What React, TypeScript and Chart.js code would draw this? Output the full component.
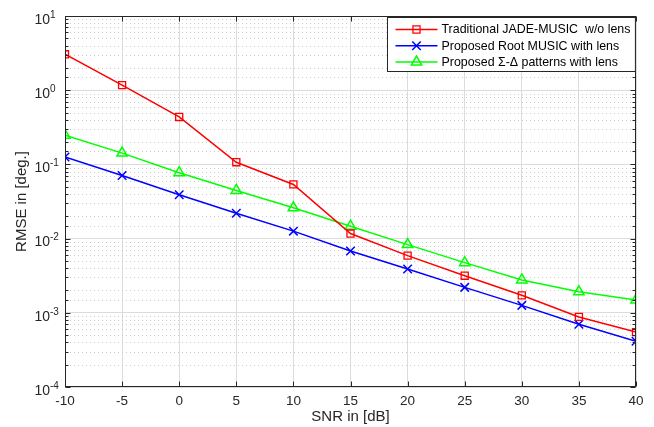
import { useEffect, useRef } from 'react';
import { Chart, registerables } from 'chart.js';
import { drawPoint } from 'chart.js/helpers';

Chart.register(...registerables);

const snrDb = [-10, -5, 0, 5, 10, 15, 20, 25, 30, 35, 40];
const jadeMusic = [3.05, 1.17, 0.436, 0.107, 0.0537, 0.0117, 0.0059, 0.00316, 0.00172, 0.00088, 0.00055];
const rootMusic = [0.126, 0.071, 0.039, 0.022, 0.0126, 0.0068, 0.0039, 0.0022, 0.00126, 0.0007, 0.000413];
const sigmaDelta = [0.247, 0.142, 0.0773, 0.0446, 0.026, 0.0147, 0.0083, 0.00474, 0.00277, 0.00192, 0.00149];
const yExponents = [-4, -3, -2, -1, 0, 1];
const seriesLabels = [
  'Traditional JADE-MUSIC  w/o lens',
  'Proposed Root MUSIC with lens',
  'Proposed \u03A3-\u0394 patterns with lens',
];

const FONT = "'Liberation Sans', Arial, Helvetica, sans-serif";
const AXIS = '#262626';

const isPow10 = (v: number) => {
  const l = Math.log10(v);
  return Math.abs(l - Math.round(l)) < 1e-6;
};

const matlabPlugin = {
  id: 'matlabLook',
  beforeDatasetsDraw(chart: any) {
    const { ctx, chartArea: a, scales } = chart;
    const y = scales.y;
    ctx.save();
    ctx.strokeStyle = '#cccccc';
    ctx.lineWidth = 1;
    ctx.setLineDash([1, 3]);
    y.ticks.forEach((t: any) => {
      if (isPow10(t.value)) return;
      const py = Math.round(y.getPixelForValue(t.value)) + 0.5;
      ctx.beginPath();
      ctx.moveTo(a.left + 1, py);
      ctx.lineTo(a.right, py);
      ctx.stroke();
    });
    ctx.restore();
  },
  afterDraw(chart: any) {
    const { ctx, chartArea: a, scales } = chart;
    const x = scales.x;
    const y = scales.y;
    const L = Math.round(a.left) + 0.5;
    const R = Math.round(a.right) - 0.5;
    const T = Math.round(a.top) + 0.5;
    const B = Math.round(a.bottom) - 0.5;
    ctx.save();
    ctx.strokeStyle = AXIS;
    ctx.lineWidth = 1;
    y.ticks.forEach((t: any) => {
      const py = Math.round(y.getPixelForValue(t.value)) + 0.5;
      const len = isPow10(t.value) ? 5 : 3;
      ctx.beginPath();
      ctx.moveTo(L, py);
      ctx.lineTo(L + len, py);
      ctx.moveTo(R, py);
      ctx.lineTo(R - len, py);
      ctx.stroke();
    });
    x.ticks.forEach((t: any) => {
      const px = Math.round(x.getPixelForValue(t.value)) + 0.5;
      ctx.beginPath();
      ctx.moveTo(px, B);
      ctx.lineTo(px, B - 5);
      ctx.moveTo(px, T);
      ctx.lineTo(px, T + 5);
      ctx.stroke();
    });
    ctx.strokeRect(L, T, R - L, B - T);

    ctx.fillStyle = AXIS;
    yExponents.forEach((e) => {
      const py = y.getPixelForValue(Math.pow(10, e));
      ctx.font = `14px ${FONT}`;
      ctx.textAlign = 'right';
      ctx.textBaseline = 'middle';
      ctx.fillText('10', a.left - 15, py + 4);
      ctx.font = `10px ${FONT}`;
      ctx.textAlign = 'left';
      ctx.fillText(String(e), a.left - 15, py - 1);
    });

    const ds = chart.data.datasets;
    const lf = `12.4px ${FONT}`;
    ctx.font = lf;
    const maxW = Math.max(...ds.map((d: any) => ctx.measureText(d.label).width));
    const lw = 54 + maxW + 5;
    const lh = 54;
    const lx = Math.round(a.right - 1 - lw) + 0.5;
    const ly = Math.round(a.top + 1) + 0.5;
    ctx.fillStyle = '#ffffff';
    ctx.fillRect(lx, ly, lw, lh);
    ctx.strokeStyle = AXIS;
    ctx.lineWidth = 1;
    ctx.strokeRect(lx, ly, lw, lh);
    ds.forEach((d: any, i: number) => {
      const ry = ly + 12 + i * 16.3;
      ctx.strokeStyle = d.borderColor;
      ctx.lineWidth = d.borderWidth;
      ctx.beginPath();
      ctx.moveTo(lx + 8, ry);
      ctx.lineTo(lx + 50, ry);
      ctx.stroke();
      ctx.fillStyle = 'rgba(0,0,0,0)';
      ctx.lineWidth = d.pointBorderWidth;
      drawPoint(ctx, { pointStyle: d.pointStyle, radius: d.pointRadius, rotation: 0, borderWidth: d.pointBorderWidth } as any, lx + 29, ry);
      ctx.fillStyle = '#000000';
      ctx.font = lf;
      ctx.textAlign = 'left';
      ctx.textBaseline = 'middle';
      ctx.fillText(d.label, lx + 54, ry + 0.5);
    });
    ctx.restore();
  },
};

export default function App() {
  const ref = useRef<HTMLCanvasElement | null>(null);
  useEffect(() => {
    if (!ref.current) return;
    const mk = (vals: number[]) => snrDb.map((s, i) => ({ x: s, y: vals[i] }));
    const chart = new Chart(ref.current, {
      type: 'line',
      data: {
        datasets: [
          {
            label: seriesLabels[0],
            data: mk(jadeMusic),
            borderColor: '#ff0000',
            borderWidth: 1.5,
            pointStyle: 'rect',
            pointRadius: 5,
            pointBorderWidth: 1.3,
            pointBackgroundColor: 'rgba(0,0,0,0)',
            pointBorderColor: '#ff0000',
            fill: false,
          },
          {
            label: seriesLabels[1],
            data: mk(rootMusic),
            borderColor: '#0000ff',
            borderWidth: 1.5,
            pointStyle: 'crossRot',
            pointRadius: 6,
            pointBorderWidth: 1.5,
            pointBackgroundColor: 'rgba(0,0,0,0)',
            pointBorderColor: '#0000ff',
            fill: false,
          },
          {
            label: seriesLabels[2],
            data: mk(sigmaDelta),
            borderColor: '#00ff00',
            borderWidth: 1.5,
            pointStyle: 'triangle',
            pointRadius: 6,
            pointBorderWidth: 1.5,
            pointBackgroundColor: 'rgba(0,0,0,0)',
            pointBorderColor: '#00ff00',
            fill: false,
          },
        ] as any,
      },
      options: {
        responsive: false,
        animation: false,
        layout: { padding: { top: 16, right: 18, left: 0, bottom: 0 } },
        plugins: {
          legend: { display: false },
          tooltip: { enabled: false },
        },
        scales: {
          x: {
            type: 'linear',
            min: -10,
            max: 40,
            ticks: {
              stepSize: 5,
              color: AXIS,
              font: { family: FONT, size: 13.5 },
              padding: 6,
              maxRotation: 0,
              autoSkip: false,
            },
            grid: { color: '#dcdcdc', drawTicks: false, lineWidth: 1 },
            border: { display: false },
            title: {
              display: true,
              text: 'SNR in [dB]',
              color: AXIS,
              font: { family: FONT, size: 15 },
              padding: { top: 0, bottom: 1 },
            },
            afterFit: (s: any) => {
              s.height = 40;
            },
          },
          y: {
            type: 'logarithmic',
            min: 1e-4,
            max: 10,
            ticks: { display: false },
            grid: {
              color: (c: any) => (c.tick && isPow10(c.tick.value) ? '#dcdcdc' : 'rgba(0,0,0,0)'),
              drawTicks: false,
              lineWidth: 1,
            },
            border: { display: false },
            title: {
              display: true,
              text: 'RMSE in [deg.]',
              color: AXIS,
              font: { family: FONT, size: 15 },
              padding: { top: 12.5, bottom: 0 },
            },
            afterFit: (s: any) => {
              s.width = 65;
            },
          },
        },
      },
      plugins: [matlabPlugin],
    });
    return () => chart.destroy();
  }, []);
  return (
    <div style={{ position: 'fixed', left: 0, top: 0, width: 654, height: 427, background: '#fff' }}>
      <canvas ref={ref} width={654} height={427} style={{ width: 654, height: 427 }} />
    </div>
  );
}
